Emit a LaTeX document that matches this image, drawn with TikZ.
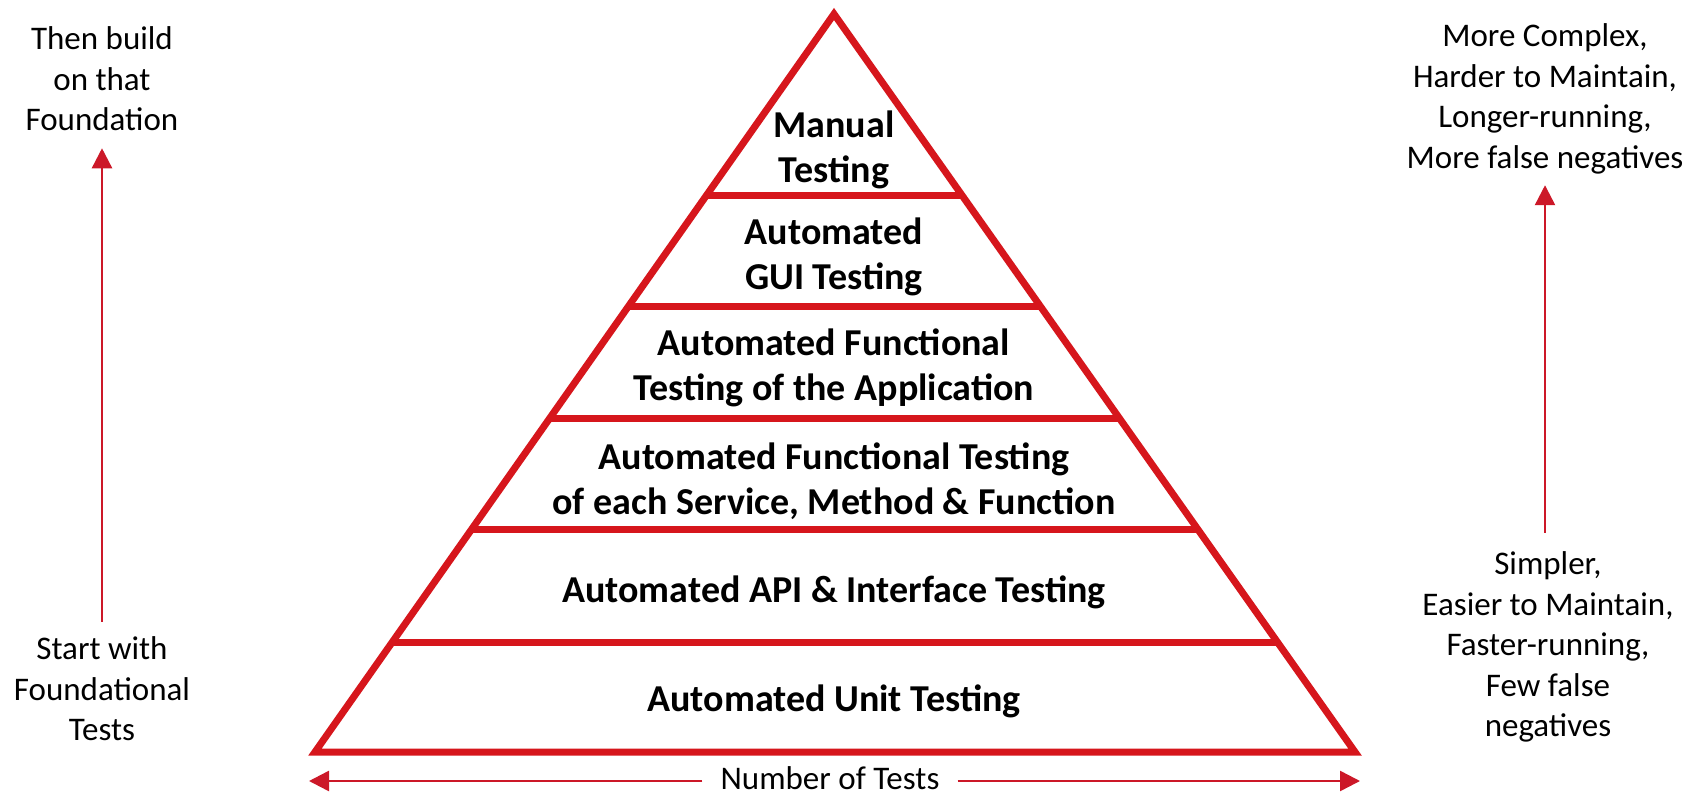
\documentclass[tikz,border=0pt]{standalone}
\usepackage{fontspec}
\setmainfont{Carlito}
\usetikzlibrary{arrows.meta,calc}
\definecolor{pyrred}{RGB}{214,22,28}
\definecolor{arrred}{RGB}{204,24,40}
\begin{document}
\begin{tikzpicture}[x=1pt,y=-1pt,
  edge/.style={draw=pyrred,line width=7pt,line join=miter},
  layer/.style={font=\bfseries\fontsize{38}{45}\selectfont,align=center,inner sep=0pt},
  side/.style={font=\fontsize{33}{40.5}\selectfont,align=center,inner sep=0pt},
  arr/.style={draw=arrred,line width=2.5pt,-{Triangle[length=20pt,width=20pt]}}]
\useasboundingbox[fill=white] (0,0) rectangle (1708,794);

% pyramid outline and the dividers between its layers
\coordinate (apex) at (834,14);
\coordinate (bl) at (315,752);
\coordinate (br) at (1355,752);
\foreach \yy in {196,307,418,530,643} {
  \draw[edge] ($(apex)!{(\yy-14)/738}!(bl)$) -- ($(apex)!{(\yy-14)/738}!(br)$);
}
\draw[edge] (apex) -- (bl) -- (br) -- cycle;

% layer labels
\node[layer] (manual) at (834,150) {Manual\\Testing};
\node[layer] (gui)    at (834,257) {Automated\\GUI Testing};
\node[layer] (func)   at (834,368) {Automated Functional\\Testing of the Application};
\node[layer] (svc)    at (834,481) {Automated Functional Testing\\of each Service, Method \& Function};
\node[layer] (api)    at (834,592) {Automated API \& Interface Testing};
\node[layer] (unit)   at (834,701) {Automated Unit Testing};

% side notes
\node[side] (then)    at (102,79)   {Then build\\on that\\Foundation};
\node[side] (start)   at (102,689)  {Start with\\Foundational\\Tests};
\node[side] (complex) at (1545,99)  {More Complex,\\Harder to Maintain,\\Longer-running,\\More false negatives};
\node[side] (simple)  at (1548,647) {Simpler,\\Easier to Maintain,\\Faster-running,\\Few false\\negatives};

\draw[arr, shorten <=15pt, shorten >=17pt] (start.north) -- (then.south);
\draw[arr, shorten <=19pt, shorten >=11pt] (complex.south |- simple.north) -- (complex.south);

% width axis
\coordinate (nl) at (309,781);
\coordinate (nr) at (1360,781);
\node[side, inner xsep=18pt] (num) at (830,778) {Number of Tests};
\draw[arr] (num.west |- nl) -- (nl);
\draw[arr] (num.east |- nr) -- (nr);
\end{tikzpicture}
\end{document}
